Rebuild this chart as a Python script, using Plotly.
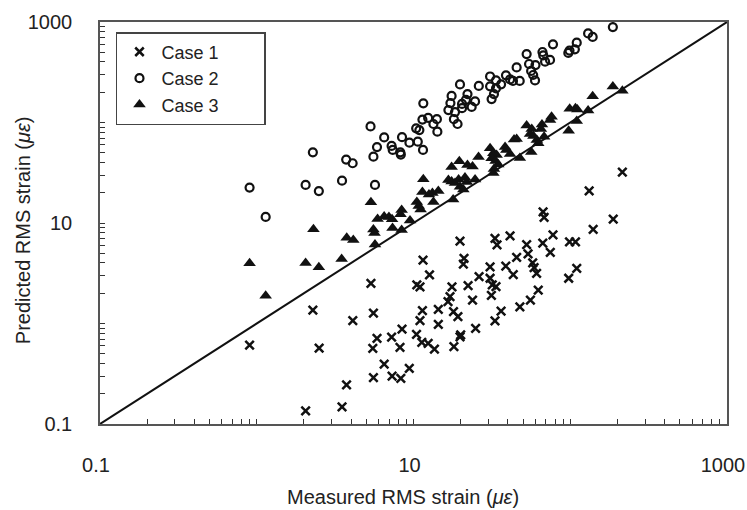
import plotly.graph_objects as go

# ---- Case 1 (crosses) ----
case1_measured = [0.9, 2.05, 2.28, 2.5, 3.5, 3.74, 4.1, 5.35, 5.55, 5.5,
                  5.85, 5.55, 6.5, 7.25, 7.3, 8.2, 8.3, 8.45, 9.4, 10.45,
                  11.3, 12.4, 13.6, 18.1, 19.8, 10.5, 11.0, 11.5, 12.65, 11.4,
                  11.0, 14.4, 14.4, 18.0, 19.2, 17.1, 16.6, 17.6, 22.3, 23.8,
                  20.0, 24.9, 19.8, 21.0, 20.8, 26.2, 30.8, 30.8, 31.8, 33.6,
                  31.4, 33.1, 36.2, 33.1, 34.1, 41.3, 38.8, 45.5, 43.3, 47.7,
                  55.7, 62.5, 53.8, 52.7, 57.6, 58.8, 61.0, 66.8, 74.6, 77.6,
                  67.1, 68.1, 98.9, 108, 110, 97.7, 132, 140, 188, 215]
case1_predicted = [0.61, 0.135, 1.36, 0.57, 0.148, 0.245, 1.07, 2.51, 1.27, 0.567,
                   0.71, 0.29, 0.395, 0.73, 0.30, 0.58, 0.285, 0.88, 0.358, 0.78,
                   0.65, 0.635, 0.555, 0.59, 0.735, 2.42, 2.31, 4.28, 3.04, 1.34,
                   1.07, 1.38, 0.98, 1.31, 1.17, 1.85, 1.65, 2.32, 2.38, 1.71,
                   0.77, 0.895, 6.6, 4.45, 3.9, 2.92, 3.65, 2.82, 2.42, 2.33,
                   1.9, 1.06, 1.33, 7.05, 6.05, 7.45, 3.73, 4.55, 3.07, 1.46,
                   1.71, 2.15, 4.92, 6.1, 4.0, 3.6, 3.15, 6.3, 5.1, 7.6,
                   12.9, 11.4, 6.5, 6.5, 3.54, 2.82, 20.9, 8.65, 10.9, 32]

# ---- Case 2 (open circles) ----
case2_measured = [0.9, 1.14, 2.05, 2.49, 2.28, 3.72, 4.09, 3.5, 5.32, 5.55,
                  5.68, 5.85, 6.5, 7.25, 7.37, 8.24, 8.3, 8.45, 9.42, 10.65,
                  11.5, 10.4, 10.9, 11.4, 11.55, 12.4, 14.1, 13.4, 14.2, 17.2,
                  17.5, 16.7, 18.4, 18.1, 19.1, 19.8, 22.1, 21.6, 20.4, 20.4,
                  23.5, 24.7, 26.1, 30.8, 30.8, 33.6, 36.2, 33.6, 32.6, 31.5,
                  38.9, 41.3, 43.1, 47.6, 45.5, 52.7, 54.6, 56.3, 58.0, 60,
                  59.6, 66.5, 67.3, 69.1, 74.3, 77.6, 97.2, 98.9, 107, 110,
                  130, 139, 187]
case2_predicted = [22.5, 11.5, 23.9, 20.8, 50.5, 42.8, 39.3, 26.4, 91.5, 45.7,
                   23.9, 57, 71, 58.5, 53.3, 50.5, 48, 71.5, 63, 64.5,
                   53.3, 87.5, 84, 107, 155, 111, 108, 96.6, 81, 156,
                   184, 133, 127, 108, 96.6, 239, 192, 168, 153, 139,
                   143, 162, 231, 287, 229, 262, 240, 219, 192, 171,
                   295, 268, 259, 259, 353, 480, 382, 326, 297, 373,
                   262, 503, 465, 403, 419, 600, 492, 520, 535, 623,
                   770, 710, 890]

# ---- Case 3 (filled triangles) ----
case3_measured = [0.9, 1.14, 2.05, 2.49, 3.48, 2.3, 3.75, 4.13, 5.35, 5.55,
                  5.64, 5.68, 5.9, 6.5, 6.97, 7.3, 7.35, 8.4, 8.4, 8.26,
                  9.5, 10.5, 10.8, 11.1, 11.55, 11.4, 12.55, 13.2, 14.4, 13.4,
                  17.9, 16.7, 17.5, 18.4, 19.4, 21.3, 21.9, 19.8, 20.8, 24.7,
                  17.5, 19.6, 22.1, 23.8, 26.0, 30.8, 32.3, 33.9, 31.5, 33.4,
                  34.7, 32.6, 32.3, 41.3, 38.4, 39.1, 43.8, 45.5, 47.7, 52.7,
                  56.8, 55.4, 58.2, 61.2, 62.5, 68.1, 56.4, 66, 65, 76,
                  74.3, 99.2, 108, 111, 130, 110, 97.7, 139, 187, 215]
case3_predicted = [3.98, 1.89, 4.0, 3.62, 4.38, 8.65, 7.14, 6.76, 16.1, 8.6,
                   7.95, 6.1, 10.96, 11.6, 11.5, 10.9, 8.9, 8.5, 13.5, 12.2,
                   10.6, 16.2, 14.8, 13.6, 27.2, 20.3, 19.2, 19.9, 20.8, 16.2,
                   17.1, 26.8, 25.9, 25, 27.1, 28.4, 25.6, 23.0, 21.6, 27.1,
                   36.1, 41.2, 37.8, 36.5, 45.3, 55.5, 49.4, 47.5, 44.0, 41.4,
                   38.2, 34.5, 31.5, 48.5, 57, 53.3, 67.6, 68.5, 44.3, 93.5,
                   86, 77, 73.5, 67, 62.2, 72, 51, 95.5, 86, 114,
                   106, 137, 139, 135, 132, 103.5, 83, 182, 228, 207]

# ---- 1:1 line and axes ----
line_ends = [0.1, 1000]
decades = [0.1, 1, 10, 100]
labelled_ticks = {0.1: "0.1", 10: "10", 1000: "1000"}
series_names = ["Case 1", "Case 2", "Case 3"]

tick_vals = []
for d in decades:
    for m in range(1, 10):
        tick_vals.append(round(d * m, 6))
tick_vals.append(1000)
tick_text = [labelled_ticks.get(v, "") for v in tick_vals]

FONT = "Liberation Sans, Arial, sans-serif"
TXT = "#222222"
PAD = "\u00a0" * 8

fig = go.Figure()
fig.add_trace(go.Scatter(
    x=line_ends, y=line_ends, mode="lines",
    line=dict(color="#111111", width=2), showlegend=False, hoverinfo="skip"))
fig.add_trace(go.Scatter(
    x=case1_measured, y=case1_predicted, mode="markers", name=series_names[0] + PAD,
    marker=dict(symbol="x-thin", size=8.5, color="#111111",
                line=dict(color="#111111", width=2.5))))
fig.add_trace(go.Scatter(
    x=case2_measured, y=case2_predicted, mode="markers", name=series_names[1] + PAD,
    marker=dict(symbol="circle-open", size=8, color="#111111",
                line=dict(color="#111111", width=2.2))))
fig.add_trace(go.Scatter(
    x=case3_measured, y=case3_predicted, mode="markers", name=series_names[2] + PAD,
    marker=dict(symbol="triangle-up", size=11, color="#111111",
                line=dict(width=0))))

axis_common = dict(
    type="log", tickmode="array", tickvals=tick_vals, ticktext=tick_text,
    ticks="inside", ticklen=5, tickwidth=1.2, tickcolor="#333333",
    showline=True, linecolor="#555555", linewidth=1.5, mirror=True,
    showgrid=False, zeroline=False, ticklabeloverflow="allow",
    tickfont=dict(family=FONT, size=20, color=TXT),
)

fig.update_xaxes(range=[-1, 3], ticklabelstandoff=22, ticklabelshift=-4, **axis_common)
fig.update_yaxes(range=[-1, 3], ticklabelstandoff=22, **axis_common)

fig.update_layout(
    width=747, height=510,
    margin=dict(l=100, r=20, t=22, b=86, autoexpand=False),
    paper_bgcolor="white", plot_bgcolor="white",
    font=dict(family=FONT, size=20, color=TXT),
    legend=dict(
        x=0.0255, y=0.975, xanchor="left", yanchor="top",
        bgcolor="white", bordercolor="#444444", borderwidth=1.5,
        font=dict(family=FONT, size=18, color=TXT),
        tracegroupgap=0, itemwidth=34,
    ),
    annotations=[
        dict(text="Measured RMS strain (<i>με</i>)", xref="paper", yref="paper",
             x=0.484, y=-0.1816, xanchor="center", yanchor="middle",
             showarrow=False, font=dict(family=FONT, size=20, color=TXT)),
        dict(text="Predicted RMS strain (<i>με</i>)", xref="paper", yref="paper",
             x=-0.1225, y=0.4826, xanchor="center", yanchor="middle",
             textangle=-90, showarrow=False,
             font=dict(family=FONT, size=20, color=TXT)),
    ],
)

fig.write_html("out.html",
               config={"displayModeBar": False},
               post_script="document.body.style.margin='0px';"
                           "document.body.style.overflow='hidden';")
